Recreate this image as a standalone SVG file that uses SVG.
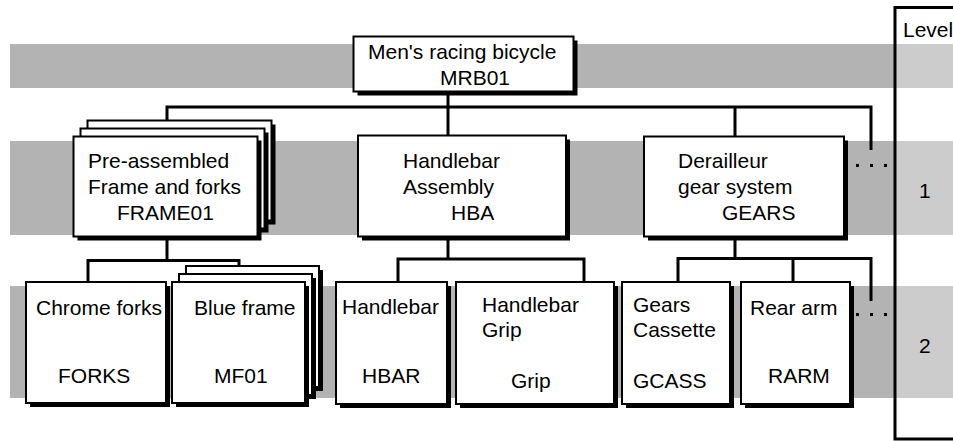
<svg xmlns="http://www.w3.org/2000/svg" width="953" height="441" viewBox="0 0 953 441">
<style>
.band{fill:#b3b3b3}
.lband{fill:#cccccc}
.box{fill:#ffffff;stroke:#000000;stroke-width:2}
.sh{fill:#000000}
.t{font-family:"Liberation Sans",Arial,sans-serif;font-size:21px;fill:#000000}
.c{fill:none;stroke:#000000;stroke-width:3;stroke-linejoin:miter;stroke-linecap:butt}
.dot{fill:#000000}
</style>
<rect width="953" height="441" fill="#ffffff"/>
<g id="bands">
<rect class="band" x="10" y="44" width="886" height="44"/>
<rect class="lband" x="896" y="44" width="57" height="44"/>
<rect class="band" x="10" y="141" width="886" height="94"/>
<rect class="lband" x="896" y="141" width="57" height="94"/>
<rect class="band" x="10" y="286" width="886" height="112"/>
<rect class="lband" x="896" y="286" width="57" height="112"/>
</g>
<g id="level-column">
<path class="c" d="M953,7.5 H895 V439 H953"/>
<text class="t" x="903" y="37">Level</text>
<text class="t" x="919" y="198">1</text>
<text class="t" x="919" y="353">2</text>
</g>
<g id="connectors">
<path class="c" d="M448,92 V135"/>
<path class="c" d="M167,120 V107 H871 V150"/>
<path class="c" d="M735,107 V136"/>
<rect class="dot" x="856" y="164" width="3" height="3"/>
<rect class="dot" x="870" y="164" width="3" height="3"/>
<rect class="dot" x="884" y="164" width="3" height="3"/>
<path class="c" d="M167,237 V260.5"/>
<path class="c" d="M88,282 V260.5 H239 V266"/>
<path class="c" d="M448,237 V259"/>
<path class="c" d="M398,282 V259 H584 V282"/>
<path class="c" d="M735,237 V258.5"/>
<path class="c" d="M678,282 V258.5 H871 V301"/>
<path class="c" d="M793,258.5 V282"/>
<rect class="dot" x="856" y="313" width="3" height="3"/>
<rect class="dot" x="870" y="313" width="3" height="3"/>
<rect class="dot" x="884" y="313" width="3" height="3"/>
</g>
<g id="MRB01">
<rect class="sh" x="357.5" y="40.5" width="220" height="55"/>
<rect class="box" x="353.5" y="36.5" width="220" height="55"/>
<text class="t" x="368" y="59">Men's racing bicycle</text>
<text class="t" x="440" y="85">MRB01</text>
</g>
<g id="FRAME01">
<rect class="sh" x="91.5" y="124.5" width="184" height="100"/>
<rect class="box" x="87.5" y="120.5" width="184" height="100"/>
<rect class="sh" x="84.5" y="132.5" width="184" height="100"/>
<rect class="box" x="80.5" y="128.5" width="184" height="100"/>
<rect class="sh" x="77.5" y="140.5" width="184" height="100"/>
<rect class="box" x="73.5" y="136.5" width="184" height="100"/>
<text class="t" x="88" y="168">Pre-assembled</text>
<text class="t" x="88" y="194">Frame and forks</text>
<text class="t" x="117" y="220">FRAME01</text>
</g>
<g id="HBA">
<rect class="sh" x="362" y="139.5" width="208" height="101"/>
<rect class="box" x="358" y="135.5" width="208" height="101"/>
<text class="t" x="403" y="168">Handlebar</text>
<text class="t" x="403" y="194">Assembly</text>
<text class="t" x="451" y="220">HBA</text>
</g>
<g id="GEARS">
<rect class="sh" x="648" y="140.5" width="200" height="100"/>
<rect class="box" x="644" y="136.5" width="200" height="100"/>
<text class="t" x="678" y="168">Derailleur</text>
<text class="t" x="678" y="194">gear system</text>
<text class="t" x="722" y="220">GEARS</text>
</g>
<g id="FORKS">
<rect class="sh" x="30" y="286" width="140" height="121"/>
<rect class="box" x="26" y="282" width="140" height="121"/>
<text class="t" x="36" y="315">Chrome forks</text>
<text class="t" x="58" y="383">FORKS</text>
</g>
<g id="MF01">
<rect class="sh" x="190" y="270" width="133" height="121"/>
<rect class="box" x="186" y="266" width="133" height="121"/>
<rect class="sh" x="183" y="278" width="133" height="121"/>
<rect class="box" x="179" y="274" width="133" height="121"/>
<rect class="sh" x="176" y="286" width="133" height="121"/>
<rect class="box" x="172" y="282" width="133" height="121"/>
<text class="t" x="194" y="315">Blue frame</text>
<text class="t" x="214" y="383">MF01</text>
</g>
<g id="HBAR">
<rect class="sh" x="340" y="286" width="111" height="122"/>
<rect class="box" x="336" y="282" width="111" height="122"/>
<text class="t" x="342" y="314">Handlebar</text>
<text class="t" x="362" y="383">HBAR</text>
</g>
<g id="Grip">
<rect class="sh" x="460" y="286" width="158" height="122"/>
<rect class="box" x="456" y="282" width="158" height="122"/>
<text class="t" x="482" y="312">Handlebar</text>
<text class="t" x="482" y="337">Grip</text>
<text class="t" x="511" y="388">Grip</text>
</g>
<g id="GCASS">
<rect class="sh" x="626" y="286" width="108" height="122"/>
<rect class="box" x="622" y="282" width="108" height="122"/>
<text class="t" x="633" y="312">Gears</text>
<text class="t" x="633" y="337">Cassette</text>
<text class="t" x="633" y="388">GCASS</text>
</g>
<g id="RARM">
<rect class="sh" x="745" y="286" width="109" height="122"/>
<rect class="box" x="741" y="282" width="109" height="122"/>
<text class="t" x="750" y="315">Rear arm</text>
<text class="t" x="768" y="383">RARM</text>
</g>
</svg>
